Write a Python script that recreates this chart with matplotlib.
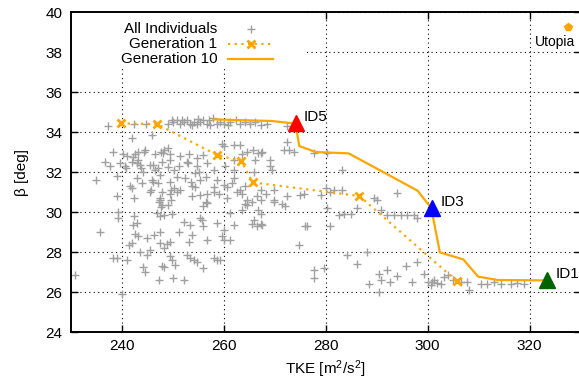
"""Pareto front of TKE vs. beta: all individuals, generation 1 and 10."""

import numpy as np
import matplotlib

matplotlib.use("Agg")
import matplotlib.pyplot as plt
from matplotlib.patches import Rectangle

plt.rcParams["font.family"] = ["Liberation Sans", "DejaVu Sans"]
plt.rcParams["mathtext.fontset"] = "custom"
plt.rcParams["mathtext.rm"] = "Liberation Sans"
plt.rcParams["mathtext.it"] = "Liberation Sans:italic"

ORANGE = "#ffa500"
GREY = "#a0a0a0"

# ── data ──
all_individuals = [
    (237.3, 34.3), (242.4, 34.4), (244.7, 34.4), (249.1, 34.4), (250.1, 34.5),
    (250.8, 34.6), (251.4, 34.4), (252.1, 34.5), (252.7, 34.6), (253.4, 34.4),
    (254.1, 34.5), (254.7, 34.4), (255.4, 34.5), (256.0, 34.6), (256.7, 34.4),
    (257.3, 34.35), (257.9, 34.7), (258.6, 34.4), (259.3, 34.5), (260.0, 34.4),
    (261.3, 34.5), (262.3, 34.6), (263.2, 34.4), (264.2, 34.5), (265.2, 34.4),
    (266.2, 34.5), (267.2, 34.35), (268.5, 34.4), (249.8, 34.6), (251.8, 34.6),
    (253.7, 34.35), (255.0, 34.65), (257.0, 34.6), (260.9, 34.35),
    (241.9, 33.7), (245.9, 33.85), (259.6, 33.4), (260.0, 33.3), (261.9, 33.35),
    (263.2, 33.35), (238.3, 33.0), (240.3, 32.9), (240.9, 32.8), (242.6, 32.9),
    (243.2, 33.0), (244.6, 33.1), (246.5, 32.9), (248.2, 33.1), (249.1, 33.2),
    (249.5, 32.9), (251.4, 32.8), (253.1, 32.9), (254.7, 32.7), (256.0, 32.85),
    (263.6, 32.9), (264.5, 33.0), (265.7, 33.1), (267.2, 32.95),
    (236.7, 32.5), (237.7, 32.3), (239.6, 32.45), (240.6, 32.3), (241.9, 32.5),
    (242.9, 32.45), (243.6, 32.35), (245.5, 32.35), (246.5, 32.1), (247.8, 32.5),
    (249.5, 32.6), (251.1, 32.3), (252.7, 32.5), (254.7, 32.3), (256.7, 32.45),
    (258.0, 32.1), (260.3, 32.3), (261.9, 32.1), (265.9, 32.0), (269.1, 32.3),
    (269.5, 32.1),
    (235.0, 31.6), (239.0, 31.8), (241.6, 31.3), (242.9, 31.7), (243.9, 31.45),
    (245.9, 31.6), (247.5, 31.85), (249.5, 31.5), (250.8, 31.75), (252.4, 31.7),
    (253.7, 31.3), (255.4, 31.6), (256.4, 31.75), (258.6, 31.6), (260.0, 31.35),
    (261.6, 31.45), (261.9, 31.7), (263.2, 31.1), (264.2, 31.3), (267.2, 31.1),
    (268.2, 30.9), (269.8, 31.1),
    (239.0, 30.8), (241.9, 31.2), (242.3, 30.7), (245.5, 31.0), (247.5, 30.6),
    (247.8, 31.0), (249.5, 30.9), (250.8, 31.0), (253.7, 30.8), (255.4, 30.85),
    (256.7, 30.9), (258.0, 31.0), (259.0, 30.9), (260.6, 30.7), (263.6, 30.9),
    (264.5, 30.6), (265.5, 30.5), (266.5, 30.8), (267.2, 30.6), (269.8, 30.6),
    (242.1, 32.77), (243.1, 32.6), (244.4, 33.0), (247.7, 33.0), (248.0, 32.93),
    (252.9, 32.43), (240.8, 32.18), (243.8, 32.18), (244.1, 32.0), (246.1, 32.35),
    (247.0, 32.18), (249.0, 32.27), (250.3, 32.1), (254.3, 31.93), (255.2, 32.0),
    (246.1, 31.52), (245.7, 31.1), (247.0, 31.43), (249.7, 31.1), (250.3, 31.18),
    (251.3, 31.1), (253.6, 31.52), (254.3, 31.27), (247.4, 30.68), (247.7, 30.27),
    (249.0, 30.35), (249.7, 30.6), (239.2, 29.68), (242.1, 29.35),
    (266.8, 32.93), (267.5, 33.0), (266.2, 32.6), (269.1, 32.6), (261.9, 32.6),
    (258.0, 31.27), (260.6, 31.27), (262.6, 31.02), (261.3, 29.93), (263.6, 30.1),
    (266.8, 30.1),
    (239.3, 30.0), (247.2, 30.5), (247.8, 30.35), (256.4, 30.5), (256.7, 30.45),
    (256.0, 30.3), (264.2, 30.4), (264.5, 30.35), (249.8, 29.9), (248.2, 29.85),
    (247.5, 29.8), (246.8, 29.95), (242.3, 29.8), (242.9, 29.45), (242.6, 28.9),
    (243.2, 28.8), (244.9, 28.7), (246.2, 28.85), (247.5, 29.0), (248.8, 28.4),
    (249.5, 28.5), (251.1, 29.0), (252.1, 29.5), (253.4, 29.35), (253.7, 28.85),
    (253.1, 28.5), (255.4, 29.7), (255.7, 29.6), (256.0, 29.3), (256.7, 28.6),
    (258.6, 29.45), (260.0, 29.1), (259.6, 28.8), (260.0, 28.6), (261.3, 28.6),
    (261.9, 29.35), (235.7, 29.0), (241.3, 28.35), (241.9, 28.45), (243.6, 28.0),
    (244.9, 27.85), (245.5, 28.1), (247.5, 28.45), (248.2, 28.2), (249.5, 27.8),
    (249.8, 27.6), (250.5, 27.35), (252.7, 27.85), (253.4, 27.7), (254.1, 27.6),
    (254.7, 27.5), (256.0, 27.2), (258.0, 27.7), (258.6, 27.6), (259.3, 27.6),
    (238.3, 27.7), (239.0, 27.7), (240.9, 27.6), (244.2, 27.25), (244.6, 27.0),
    (247.8, 27.3), (248.2, 27.25), (247.2, 26.6), (250.1, 26.7), (252.1, 26.6),
    (230.8, 26.85), (240.0, 25.9), (265.5, 29.4), (265.9, 29.6), (267.2, 29.9),
    (267.2, 29.4), (266.5, 29.3), (267.5, 29.35), (269.8, 30.5),
    (272.4, 34.3), (272.4, 33.5), (271.8, 33.1), (272.7, 33.1), (273.7, 33.0),
    (277.7, 32.95), (280.3, 32.95), (283.2, 32.1), (272.4, 30.8), (275.0, 30.85),
    (275.7, 30.9), (279.0, 30.85), (280.0, 31.2), (280.9, 31.0), (281.6, 31.1),
    (283.2, 31.1), (289.5, 30.7), (290.1, 30.6), (294.0, 30.95), (271.4, 30.4),
    (272.1, 30.3), (280.3, 30.2), (282.6, 29.85), (283.6, 29.9), (284.9, 29.9),
    (286.2, 30.2), (290.8, 30.1), (292.1, 29.85), (293.4, 29.85), (294.7, 29.85),
    (296.0, 29.85), (297.3, 29.85), (298.0, 29.7), (276.0, 29.3), (276.3, 29.3),
    (280.9, 29.3), (274.7, 28.35), (284.2, 27.85), (288.1, 28.0), (286.2, 27.4),
    (277.7, 27.1), (279.6, 27.2), (277.7, 26.7), (288.5, 26.4), (290.4, 26.9),
    (292.1, 27.1), (294.0, 26.8), (290.8, 26.6), (292.7, 26.5), (295.7, 27.3),
    (297.0, 26.5), (298.0, 27.5), (299.3, 26.9), (300.0, 26.5), (300.9, 26.5),
    (301.9, 26.45), (303.2, 26.75), (303.9, 26.85), (304.9, 26.6), (306.5, 26.5),
    (307.8, 26.5), (308.1, 26.1), (310.4, 26.4), (311.7, 26.4), (313.1, 26.5),
    (314.4, 26.4), (316.3, 26.4), (317.6, 26.45), (318.9, 26.4), (290.4, 26.0),
    (300.6, 26.35), (301.3, 26.6), (302.6, 26.4),
]

gen1_tke = [239.8, 246.85, 258.65, 263.4, 265.65, 286.6, 305.7]
gen1_beta = [34.43, 34.4, 32.85, 32.55, 31.48, 30.8, 26.55]

gen10_tke = [258.0, 269.4, 274.05, 274.8, 278.0, 284.5, 298.0, 300.7,
             302.4, 307.0, 309.9, 313.7, 323.5]
gen10_beta = [34.63, 34.55, 34.42, 33.3, 33.0, 32.93, 31.07, 30.2,
              27.98, 27.63, 26.77, 26.6, 26.58]

selected_ids = ["ID5", "ID3", "ID1"]
selected_tke = [274.1, 300.9, 323.5]
selected_beta = [34.45, 30.2, 26.6]
selected_colors = ["#ff0000", "#0000ff", "#006400"]

utopia_tke, utopia_beta = 327.5, 39.25

fig = plt.figure(figsize=(5.79, 3.85), dpi=100)
ax = fig.add_axes([71 / 579, 53 / 385, 509.5 / 579, 320 / 385])
ax.set_xlim(230, 330)
ax.set_ylim(24, 40)
ax.set_xticks(np.arange(240, 330, 20))
ax.set_yticks(np.arange(24, 41, 2))
ax.tick_params(direction="in", length=5, width=1, top=True, right=True,
               labelsize=11, pad=6, colors="black")
ax.tick_params(axis="x", pad=5)
for s in ax.spines.values():
    s.set_linewidth(1.4)
ax.grid(True, color="black", linestyle=(0, (1, 3)), linewidth=0.8, zorder=0.5)
ax.set_axisbelow(True)

# key box blanks the grid like gnuplot does
ax.add_patch(Rectangle((230, 37.25), 46.1, 2.75, facecolor="white",
                       edgecolor="none", zorder=1))

ind = np.array(all_individuals)
ax.plot(ind[:, 0], ind[:, 1], "+", color=GREY, ms=6, mew=1, zorder=2)
ax.plot(gen1_tke, gen1_beta, color=ORANGE, lw=1.6, ls=(0, (1, 2)),
        marker="x", ms=6, mew=2, zorder=3)
ax.plot(gen10_tke, gen10_beta, color=ORANGE, lw=1.6, zorder=3)
for name, x, y, c in zip(selected_ids, selected_tke, selected_beta,
                         selected_colors):
    ax.plot(x, y, "^", color=c, ms=11, zorder=4)
    ax.annotate(name, (x, y), xytext=(6, 4), textcoords="offset points",
                ha="left", va="center", fontsize=11, zorder=5)

ax.plot(utopia_tke, utopia_beta, "p", color=ORANGE, ms=6, zorder=4)
ax.text(utopia_tke - 2.5, 38.5, "Utopia", ha="center", va="center",
        fontsize=10)

# legend, gnuplot style: right-aligned text, sample to the right
key_y = [39.15, 38.4, 37.65]
ax.text(258.7, key_y[0], "All Individuals", ha="right", va="center",
        fontsize=11, zorder=5)
ax.plot(265.3, key_y[0], "+", color=GREY, ms=6, mew=1, zorder=5)
ax.text(258.7, key_y[1], "Generation 1", ha="right", va="center",
        fontsize=11, zorder=5)
ax.plot([260.9, 269.7], [key_y[1]] * 2, color=ORANGE, lw=1.6,
        ls=(0, (1, 2)), zorder=5)
ax.plot(265.3, key_y[1], "x", color=ORANGE, ms=6, mew=2, zorder=5)
ax.text(258.7, key_y[2], "Generation 10", ha="right", va="center",
        fontsize=11, zorder=5)
ax.plot([260.9, 269.7], [key_y[2]] * 2, color=ORANGE, lw=1.6, zorder=5)

ax.set_xlabel("TKE [m$^2$/s$^2$]", fontsize=11, labelpad=4)
ax.set_ylabel("β [deg]", fontsize=11, labelpad=12)

fig.savefig("out.png", dpi=100)
